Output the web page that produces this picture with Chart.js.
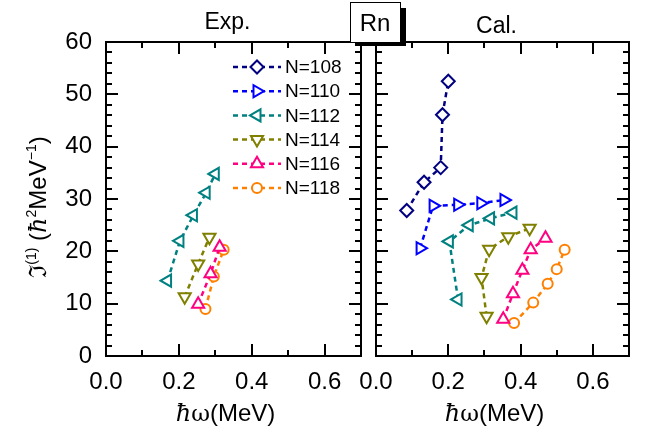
<!DOCTYPE html>
<html>
<head>
<meta charset="utf-8">
<script src="https://cdn.jsdelivr.net/npm/chart.js@4"></script>
<style>
  html, body { margin: 0; padding: 0; background: #fff; }
  #wrap { position: relative; width: 655px; height: 433px; }
  #wrap canvas { position: absolute; left: 0; top: 0; }
</style>
</head>
<body>
<div id="wrap">
  <canvas id="expChart" width="655" height="433"></canvas>
  <canvas id="calChart" width="655" height="433"></canvas>
</div>
<script>
// Tick labels
const xTickLabels = [0, 0.2, 0.4, 0.6];
const yTickLabels = [0, 10, 20, 30, 40, 50, 60];

// Series names and colours
const seriesNames = ['N=108', 'N=110', 'N=112', 'N=114', 'N=116', 'N=118'];
const seriesColors = ['#000080', '#0000ff', '#008080', '#808000', '#ff0080', '#ff8000'];

// Experimental data [hw (MeV), J1]
const exp108 = [];
const exp110 = [];
const exp112 = [[0.169, 14.4], [0.203, 22.0], [0.240, 26.9], [0.275, 31.2], [0.300, 34.8]];
const exp114 = [[0.216, 11.3], [0.253, 17.6], [0.284, 22.7]];
const exp116 = [[0.253, 9.9], [0.287, 15.7], [0.312, 20.8]];
const exp118 = [[0.273, 9.0], [0.296, 15.2], [0.323, 20.3]];

// Calculated data [hw (MeV), J1]
const cal108 = [[0.085, 27.8], [0.133, 33.2], [0.179, 36.0], [0.184, 46.1], [0.200, 52.5]];
const cal110 = [[0.122, 20.6], [0.158, 28.7], [0.226, 28.9], [0.290, 29.2], [0.354, 29.8]];
const cal112 = [[0.227, 10.8], [0.203, 21.9], [0.258, 25.0], [0.317, 26.3], [0.379, 27.4]];
const cal114 = [[0.306, 7.6], [0.292, 15.0], [0.313, 20.4], [0.366, 22.8], [0.425, 24.4]];
const cal116 = [[0.352, 7.0], [0.379, 11.9], [0.405, 16.4], [0.428, 20.3], [0.469, 22.5]];
const cal118 = [[0.382, 6.3], [0.435, 10.2], [0.475, 13.8], [0.500, 16.6], [0.522, 20.3]];

// marker per series
const MARKERS = [
    { pointStyle: 'rectRot', rotation: 0, radius: 6.5 },
    { pointStyle: 'triangle', rotation: 90, radius: 7 },
    { pointStyle: 'triangle', rotation: -90, radius: 7 },
    { pointStyle: 'triangle', rotation: 180, radius: 7 },
    { pointStyle: 'triangle', rotation: 0, radius: 7 },
    { pointStyle: 'circle', rotation: 0, radius: 5 }
];

const FONT = "'Liberation Sans', Arial, sans-serif";
const SERIF = "'DejaVu Serif', 'Liberation Serif', serif";

function makeDatasets(list) {
    return list.map((pts, i) => ({
        label: seriesNames[i],
        data: pts.map(p => ({ x: p[0], y: p[1] })),
        showLine: true,
        borderColor: seriesColors[i],
        backgroundColor: '#fff',
        borderWidth: 2.5,
        borderDash: [5, 4],
        pointStyle: MARKERS[i].pointStyle,
        pointRotation: MARKERS[i].rotation,
        pointRadius: MARKERS[i].radius,
        pointBorderWidth: 2,
        pointBorderColor: seriesColors[i],
        pointBackgroundColor: '#fff',
        tension: 0
    }));
}

// frame and inward ticks on all four sides
function drawFrame(chart) {
    const ctx = chart.ctx;
    const area = chart.chartArea;
    const left = Math.round(area.left), right = Math.round(area.right);
    const top = Math.round(area.top), bottom = Math.round(area.bottom);
    const xs = chart.scales.x, ys = chart.scales.y;
    ctx.save();
    ctx.setLineDash([]);
    ctx.globalAlpha = 1;
    ctx.fillStyle = '#000000';
    ctx.fillRect(left - 1, top - 1, right - left + 2, 2);
    ctx.fillRect(left - 1, bottom - 1, right - left + 2, 2);
    ctx.fillRect(left - 1, top - 1, 2, bottom - top + 2);
    ctx.fillRect(right - 1, top - 1, 2, bottom - top + 2);
    for (let i = 1; i < 7; i++) {
        const px = Math.round(xs.getPixelForValue(i / 10));
        const len = i % 2 === 0 ? 12 : 6;
        ctx.fillRect(px - 1, bottom - len, 2, len);
        ctx.fillRect(px - 1, top, 2, len);
    }
    for (let v = 2; v < 60; v += 2) {
        const py = Math.round(ys.getPixelForValue(v));
        const len = v % 10 === 0 ? 12 : 6;
        ctx.fillRect(left, py - 1, len, 2);
        ctx.fillRect(right - len, py - 1, len, 2);
    }
    ctx.restore();
}

const framePlugin = {
    id: 'frame',
    afterDatasetsDraw(chart) { drawFrame(chart); },
    afterDraw(chart, args, opts) {
        drawFrame(chart);
        const ctx = chart.ctx;
        const area = chart.chartArea;
        ctx.save();
        ctx.fillStyle = '#000';
        ctx.font = '23px ' + FONT;
        ctx.textAlign = 'center';
        ctx.textBaseline = 'alphabetic';
        ctx.fillText(opts.title, (area.left + area.right) / 2 - 6, opts.titleY);
        ctx.restore();
    }
};

// x axis title: hbar omega (MeV), drawn under the chart area
const xTitlePlugin = {
    id: 'xTitle',
    afterDraw(chart) {
        const ctx = chart.ctx;
        const area = chart.chartArea;
        const parts = [
            { t: 'ħ', f: 'italic 24px ' + SERIF },
            { t: 'ω', f: '23px ' + SERIF },
            { t: '(MeV)', f: '24px ' + FONT }
        ];
        ctx.save();
        ctx.fillStyle = '#000';
        ctx.textBaseline = 'alphabetic';
        ctx.textAlign = 'left';
        let w = 0;
        parts.forEach(p => { ctx.font = p.f; p.w = ctx.measureText(p.t).width; w += p.w; });
        let x = (area.left + area.right) / 2 - 8 - w / 2;
        parts.forEach(p => { ctx.font = p.f; ctx.fillText(p.t, x, 421); x += p.w; });
        ctx.restore();
    }
};

// legend: dashed line with marker, drawn from the dataset styles
const legendPlugin = {
    id: 'lineLegend',
    afterDraw(chart) {
        const ctx = chart.ctx;
        ctx.save();
        chart.data.datasets.forEach((ds, i) => {
            const y = 67 + i * 24.2;
            ctx.strokeStyle = ds.borderColor;
            ctx.lineWidth = ds.borderWidth;
            ctx.setLineDash(ds.borderDash);
            ctx.beginPath();
            ctx.moveTo(233, y); ctx.lineTo(281, y);
            ctx.stroke();
            ctx.setLineDash([]);
            ctx.lineWidth = ds.pointBorderWidth;
            ctx.fillStyle = '#fff';
            Chart.helpers.drawPoint(ctx, {
                pointStyle: ds.pointStyle,
                rotation: ds.pointRotation,
                radius: ds.pointRadius,
                borderWidth: ds.pointBorderWidth
            }, 257, y);
            ctx.fillStyle = '#000';
            ctx.font = '19px ' + FONT;
            ctx.textAlign = 'left';
            ctx.textBaseline = 'middle';
            ctx.fillText(ds.label, 285, y + 1);
        });
        ctx.restore();
    }
};

// y axis title, rotated
const yTitlePlugin = {
    id: 'yTitle',
    afterDraw(chart) {
        const ctx = chart.ctx;
        const parts = [
            { t: 'ℑ', f: '24px ' + SERIF, dy: 0 },
            { t: '(1)', f: '14px ' + FONT, dy: -10 },
            { t: ' (', f: '24px ' + FONT, dy: 0 },
            { t: 'ħ', f: 'italic 24px ' + SERIF, dy: 0 },
            { t: '2', f: '14px ' + FONT, dy: -10 },
            { t: 'MeV', f: '24px ' + FONT, dy: 0 },
            { t: '−1', f: '14px ' + FONT, dy: -10 },
            { t: ')', f: '24px ' + FONT, dy: 0 }
        ];
        ctx.save();
        let w = 0;
        parts.forEach(p => { ctx.font = p.f; p.w = ctx.measureText(p.t).width; w += p.w; });
        ctx.translate(46, 207);
        ctx.rotate(-Math.PI / 2);
        ctx.fillStyle = '#000';
        ctx.textAlign = 'left';
        ctx.textBaseline = 'alphabetic';
        let x = -w / 2;
        parts.forEach(p => { ctx.font = p.f; ctx.fillText(p.t, x, p.dy); x += p.w; });
        ctx.restore();
    }
};

// element label box with shadow
const boxPlugin = {
    id: 'elemBox',
    afterDraw(chart) {
        const ctx = chart.ctx;
        ctx.save();
        ctx.fillStyle = '#000';
        ctx.fillRect(355, 8, 51, 38);
        ctx.fillStyle = '#fff';
        ctx.fillRect(350, 2, 50, 40);
        ctx.strokeStyle = '#000';
        ctx.lineWidth = 1;
        ctx.strokeRect(350.5, 2.5, 50, 40);
        ctx.fillStyle = '#000';
        ctx.font = '24px ' + FONT;
        ctx.textAlign = 'center';
        ctx.textBaseline = 'middle';
        ctx.fillText('Rn', 375, 24);
        ctx.restore();
    }
};

function makeOptions(showY, padLeft, padRight, title, titleY) {
    return {
        responsive: false,
        animation: false,
        layout: { padding: { left: padLeft, right: padRight, top: 42, bottom: 0 } },
        plugins: {
            legend: { display: false },
            tooltip: { enabled: false },
            frame: { title: title, titleY: titleY }
        },
        scales: {
            x: {
                type: 'linear', min: 0, max: 0.7,
                afterBuildTicks: s => { s.ticks = xTickLabels.map(v => ({ value: v })); },
                afterFit: s => { s.height = 77; },
                grid: { display: false, drawTicks: false },
                border: { display: false },
                ticks: { padding: 12, color: '#000', font: { size: 24, family: FONT }, maxRotation: 0, callback: v => Number(v).toFixed(1) }
            },
            y: {
                type: 'linear', display: showY, min: 0, max: 60,
                afterBuildTicks: s => { s.ticks = yTickLabels.map(v => ({ value: v })); },
                afterFit: s => { s.width = showY ? 106 : 0; },
                grid: { display: false, drawTicks: false },
                border: { display: false },
                ticks: { padding: 14, color: '#000', font: { size: 24, family: FONT } }
            }
        }
    };
}

new Chart(document.getElementById('expChart'), {
    type: 'scatter',
    data: { datasets: makeDatasets([exp108, exp110, exp112, exp114, exp116, exp118]) },
    options: makeOptions(true, 0, 655 - 361, 'Exp.', 29),
    plugins: [framePlugin, legendPlugin, yTitlePlugin, xTitlePlugin]
});

new Chart(document.getElementById('calChart'), {
    type: 'scatter',
    data: { datasets: makeDatasets([cal108, cal110, cal112, cal114, cal116, cal118]) },
    options: makeOptions(false, 376, 655 - 629, 'Cal.', 33),
    plugins: [framePlugin, xTitlePlugin, boxPlugin]
});
</script>
</body>
</html>
